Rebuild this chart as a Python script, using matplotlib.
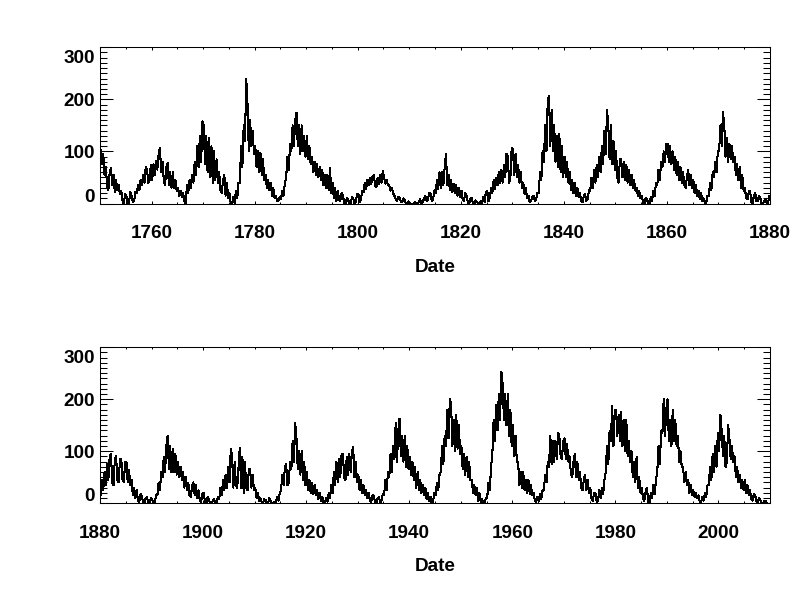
import numpy as np
import matplotlib
matplotlib.use('Agg')
import matplotlib.pyplot as plt
from matplotlib.ticker import MultipleLocator
from matplotlib.transforms import ScaledTranslation

plt.rcParams['font.family'] = ['Liberation Sans', 'DejaVu Sans']
plt.rcParams['font.weight'] = 'bold'

# monthly sunspot number, per half year (1749 H1 .. 2009 H1):
# highest and lowest month
first_year = 1749
half_hi = [95, 110,
           103, 95, 70, 60, 68, 55, 45, 35, 25, 18, 15, 22, 15, 22, 35, 45, 55, 70, 65, 75,
           75, 82, 95, 107, 80, 70, 78, 60, 60, 45, 30, 25, 20, 35, 45, 55, 80, 110, 130, 158,
           150, 130, 125, 110, 100, 85, 60, 45, 55, 40, 20, 12, 25, 40, 110, 150, 239, 190, 160, 140,
           110, 100, 98, 85, 55, 45, 40, 30, 15, 12, 25, 40, 90, 115, 150, 160, 174, 150, 150, 130,
           130, 110, 90, 80, 75, 70, 65, 55, 55, 69, 40, 30, 25, 20, 15, 10, 8, 12, 10, 18,
           18, 25, 40, 45, 50, 52, 55, 50, 55, 62, 50, 45, 35, 30, 15, 12, 12, 10, 6, 4,
           0, 0, 2, 3, 8, 10, 15, 20, 20, 25, 45, 60, 60, 70, 95, 55, 45, 38, 35, 30,
           25, 20, 15, 10, 10, 6, 3, 5, 12, 22, 25, 30, 45, 50, 60, 65, 75, 95, 90, 106,
           105, 95, 75, 60, 40, 30, 15, 12, 15, 20, 60, 100, 150, 200, 206, 180, 150, 130, 133, 110,
           90, 80, 60, 45, 40, 30, 20, 15, 18, 25, 50, 65, 75, 90, 110, 140, 180, 150, 150, 120,
           100, 85, 85, 80, 75, 65, 55, 45, 30, 25, 15, 10, 8, 12, 25, 40, 65, 80, 100, 115,
           115, 110, 100, 90, 80, 70, 60, 50, 65, 55, 45, 35, 25, 20, 10, 15, 40, 60, 80, 100,
           150, 176, 150, 125, 115, 110, 90, 75, 70, 55, 30, 22, 25, 15, 20, 15, 10, 5, 8, 15,
           45, 60, 75, 90, 95, 85, 90, 85, 85, 80, 80, 65, 45, 30, 25, 18, 12, 10, 12, 10,
           8, 15, 40, 60, 90, 110, 130, 110, 105, 95, 80, 70, 60, 50, 40, 35, 40, 35, 25, 18,
           20, 12, 8, 5, 8, 12, 30, 45, 55, 70, 105, 90, 80, 70, 107, 90, 80, 65, 65, 55,
           30, 20, 10, 8, 6, 10, 5, 3, 12, 20, 55, 70, 75, 80, 120, 154, 125, 100, 100, 80,
           60, 45, 40, 35, 25, 20, 12, 10, 20, 35, 60, 80, 85, 95, 95, 90, 95, 98, 108, 80,
           55, 45, 35, 25, 20, 15, 15, 10, 12, 18, 45, 60, 95, 110, 155, 140, 163, 130, 130, 110,
           90, 80, 70, 60, 45, 35, 30, 20, 12, 20, 40, 55, 110, 130, 180, 200, 190, 160, 170, 150,
           110, 95, 90, 80, 45, 35, 30, 20, 8, 10, 40, 70, 160, 190, 210, 253, 230, 210, 210, 180,
           150, 130, 80, 60, 60, 45, 45, 35, 20, 12, 18, 25, 55, 80, 130, 120, 120, 135, 130, 120,
           125, 115, 90, 80, 95, 80, 60, 45, 55, 45, 30, 20, 20, 25, 30, 45, 110, 140, 188, 180,
           180, 170, 175, 160, 160, 120, 100, 80, 90, 50, 30, 22, 30, 20, 35, 45, 110, 140, 200, 180,
           200, 160, 180, 160, 130, 100, 70, 60, 45, 35, 25, 20, 15, 12, 20, 35, 70, 95, 110, 135,
           170, 140, 130, 150, 125, 110, 90, 70, 55, 45, 45, 35, 25, 18, 15, 10, 6, 4,
           5]
half_lo = [60, 70,
           75, 55, 35, 25, 35, 22, 25, 18, 5, 0, 0, 2, 2, 5, 20, 25, 35, 40, 40, 45,
           45, 55, 65, 60, 45, 35, 35, 30, 30, 25, 15, 12, 5, 0, 20, 30, 40, 55, 70, 80,
           75, 60, 50, 40, 45, 40, 25, 20, 15, 10, 0, 0, 0, 10, 40, 70, 120, 100, 110, 95,
           70, 60, 55, 45, 30, 25, 15, 10, 5, 5, 8, 15, 50, 65, 100, 110, 110, 95, 100, 90,
           85, 75, 60, 55, 50, 45, 35, 30, 25, 20, 10, 5, 8, 5, 2, 0, 0, 0, 0, 2,
           3, 8, 22, 28, 35, 38, 35, 32, 38, 40, 38, 35, 25, 20, 8, 5, 4, 3, 0, 0,
           0, 0, 0, 0, 0, 2, 5, 8, 5, 8, 20, 28, 30, 35, 35, 25, 22, 20, 15, 12,
           8, 5, 2, 0, 0, 0, 0, 0, 0, 3, 5, 10, 20, 28, 35, 40, 40, 50, 40, 50,
           55, 50, 40, 30, 18, 10, 3, 5, 5, 8, 20, 45, 80, 100, 110, 100, 80, 70, 60, 50,
           50, 40, 25, 20, 15, 12, 5, 2, 5, 8, 25, 30, 40, 50, 60, 75, 95, 85, 75, 65,
           50, 40, 50, 45, 40, 35, 30, 25, 15, 10, 2, 0, 0, 0, 5, 15, 35, 45, 70, 80,
           80, 75, 65, 55, 45, 40, 35, 30, 35, 30, 20, 15, 8, 5, 0, 2, 15, 25, 50, 60,
           100, 110, 90, 80, 85, 80, 55, 45, 30, 25, 10, 8, 3, 0, 5, 5, 0, 0, 0, 2,
           15, 25, 35, 45, 40, 35, 45, 40, 45, 40, 40, 35, 15, 10, 5, 3, 2, 0, 0, 2,
           0, 2, 15, 25, 50, 60, 65, 60, 60, 55, 50, 45, 30, 25, 15, 12, 15, 10, 5, 3,
           2, 0, 0, 0, 0, 2, 8, 15, 25, 30, 40, 30, 35, 30, 30, 20, 30, 25, 30, 25,
           10, 5, 2, 0, 0, 0, 0, 0, 2, 5, 25, 35, 35, 40, 65, 80, 65, 55, 45, 35,
           25, 20, 18, 15, 8, 5, 2, 0, 3, 10, 20, 35, 40, 50, 50, 45, 55, 60, 50, 40,
           25, 20, 15, 10, 5, 3, 2, 0, 2, 5, 15, 25, 50, 60, 85, 80, 90, 80, 70, 65,
           55, 45, 30, 25, 20, 15, 8, 5, 0, 3, 15, 25, 60, 75, 110, 125, 110, 100, 105, 95,
           65, 55, 50, 45, 20, 15, 5, 2, 0, 0, 10, 25, 95, 120, 140, 160, 160, 150, 130, 110,
           90, 80, 35, 30, 25, 20, 18, 15, 5, 3, 5, 8, 25, 40, 70, 75, 80, 85, 90, 85,
           85, 80, 55, 50, 50, 45, 30, 25, 25, 20, 8, 5, 3, 5, 10, 18, 60, 75, 120, 110,
           130, 120, 110, 100, 90, 80, 50, 40, 30, 20, 8, 5, 2, 0, 10, 18, 60, 75, 135, 130,
           120, 110, 120, 110, 80, 70, 40, 35, 20, 15, 12, 10, 3, 2, 5, 12, 35, 45, 60, 70,
           100, 90, 70, 80, 85, 80, 50, 40, 30, 25, 20, 15, 8, 5, 3, 2, 0, 0,
           0]

hi = np.array(half_hi, dtype=float)
lo = np.array(half_lo, dtype=float)
t = first_year + 0.5 * np.arange(len(hi))

# put the two months of each half year in time order: low first while the
# cycle rises, high first while it falls, alternating on the flat parts
level = np.r_[hi[0] + lo[0], hi + lo, hi[-1] + lo[-1]] / 2
trend = level[2:] - level[:-2]
parity = np.arange(len(hi)) % 2 == 1
low_first = np.where(np.abs(trend) > 8, trend > 0, parity)
first = np.where(low_first, lo, hi)
second = np.where(low_first, hi, lo)

x = np.column_stack([t + 0.125, t + 0.375]).ravel()
ssn = np.column_stack([first, second]).ravel()

fig = plt.figure(figsize=(8, 6), dpi=100)
ax1 = fig.add_axes([0.125, 0.6608, 0.8375, 0.2604])
ax2 = fig.add_axes([0.125, 0.1612, 0.8375, 0.2600])

for ax, (x0, x1) in [(ax1, (1750, 1880)), (ax2, (1880, 2010))]:
    ax.plot(x, ssn, color='black', lw=0.75, antialiased=False)
    ax.set_xlim(x0, x1)
    ax.set_ylim(0, 300)
    ax.xaxis.set_major_locator(MultipleLocator(20))
    ax.xaxis.set_minor_locator(MultipleLocator(5))
    ax.yaxis.set_major_locator(MultipleLocator(100))
    ax.yaxis.set_minor_locator(MultipleLocator(10))
    ax.tick_params(which='both', direction='in', top=True, right=True,
                   width=0.75, labelsize=13.6)
    ax.tick_params(axis='x', which='major', length=2.3, pad=15.5)
    ax.tick_params(axis='x', which='minor', length=1.2)
    ax.tick_params(axis='y', which='major', length=9.4, pad=3.6)
    ax.tick_params(axis='y', which='minor', length=4.7)
    for s in ax.spines.values():
        s.set_linewidth(0.75)
    ax.set_xlabel('Date', fontsize=13.6, fontweight='bold', labelpad=12)
    ax.set_yticks([0, 100, 200, 300])
    ticks = ax.yaxis.get_major_ticks()
    ticks[0].label1.set_transform(ticks[0].label1.get_transform() +
                                  ScaledTranslation(0, 8.5 / 100, fig.dpi_scale_trans))
    ticks[-1].label1.set_transform(ticks[-1].label1.get_transform() +
                                   ScaledTranslation(0, -9.4 / 100, fig.dpi_scale_trans))

fig.savefig('out.png', dpi=100, facecolor='white')
